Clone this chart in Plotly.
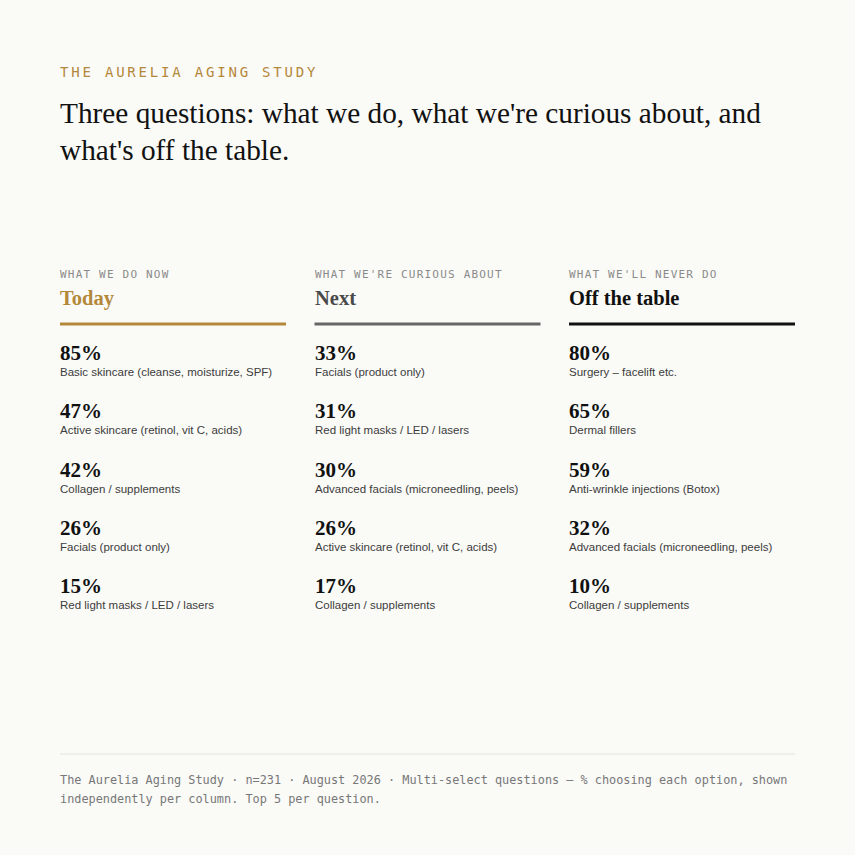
import plotly.graph_objects as go

# --- data -------------------------------------------------------------
kicker = "THE AURELIA AGING STUDY"
title_lines = [
    "Three questions: what we do, what we're curious about, and",
    "what's off the table.",
]
col_kickers = ["WHAT WE DO NOW", "WHAT WE'RE CURIOUS ABOUT", "WHAT WE'LL NEVER DO"]
col_titles = ["Today", "Next", "Off the table"]

today_values = [85, 47, 42, 26, 15]
today_labels = [
    "Basic skincare (cleanse, moisturize, SPF)",
    "Active skincare (retinol, vit C, acids)",
    "Collagen / supplements",
    "Facials (product only)",
    "Red light masks / LED / lasers",
]
next_values = [33, 31, 30, 26, 17]
next_labels = [
    "Facials (product only)",
    "Red light masks / LED / lasers",
    "Advanced facials (microneedling, peels)",
    "Active skincare (retinol, vit C, acids)",
    "Collagen / supplements",
]
never_values = [80, 65, 59, 32, 10]
never_labels = [
    "Surgery \u2013 facelift etc.",
    "Dermal fillers",
    "Anti-wrinkle injections (Botox)",
    "Advanced facials (microneedling, peels)",
    "Collagen / supplements",
]
footer_lines = [
    "The Aurelia Aging Study \u00b7 n=231 \u00b7 August 2026 \u00b7 Multi-select questions \u2014 % choosing each option, shown",
    "independently per column. Top 5 per question.",
]

# --- style ------------------------------------------------------------
BG = "#FAFAF7"
GOLD = "#B4883A"
SERIF = "Liberation Serif, Times New Roman, serif"
SANS = "Liberation Sans, Arial, sans-serif"
MONO = "DejaVu Sans Mono, monospace"
col_colors = [GOLD, "#4A4A4A", "#111111"]
rule_colors = [GOLD, "#666666", "#111111"]
col_x = [60, 314.5, 569]
col_w = 226
row_step = 58.3

fig = go.Figure()
ann = []


def text(x, y, s, size, color, family, bold=False, spacing=None):
    if spacing:
        s = f'<span style="letter-spacing:{spacing}px">{s}</span>'
    if bold:
        s = f"<b>{s}</b>"
    # annotations carry ~2px of padding; pull them back onto the grid
    ann.append(dict(x=x, y=y, xref="x", yref="y", text=s, showarrow=False,
                    xanchor="left", yanchor="middle", align="left", xshift=-2,
                    font=dict(size=size, color=color, family=family)))


text(60, 72, kicker, 14, GOLD, MONO, spacing=2.8)
for i, line in enumerate(title_lines):
    text(60, 113 + i * 37, line, 29.3, "#111111", SERIF)

columns = [(today_values, today_labels), (next_values, next_labels),
           (never_values, never_labels)]
for c, (vals, labels) in enumerate(columns):
    x0 = col_x[c]
    text(x0, 274, col_kickers[c], 11, "#8A8A8A", MONO, spacing=1.2)
    text(x0, 298, col_titles[c], 20.5, col_colors[c], SERIF, bold=True)
    fig.add_trace(go.Scatter(x=[x0, x0 + col_w], y=[324, 324], mode="lines",
                             line=dict(color=rule_colors[c], width=3),
                             hoverinfo="skip", showlegend=False))
    for r, (v, lab) in enumerate(zip(vals, labels)):
        text(x0, 353 + r * row_step, f"{v}%", 21, "#111111", SERIF, bold=True)
        text(x0, 372 + r * row_step, lab, 11.5, "#3C3C3C", SANS)

fig.add_trace(go.Scatter(x=[60, 795], y=[754, 754], mode="lines",
                         line=dict(color="#E2E2DE", width=1),
                         hoverinfo="skip", showlegend=False))
for i, line in enumerate(footer_lines):
    text(60, 780 + i * 18.5, line, 11.85, "#777777", MONO)

fig.update_layout(
    width=855, height=855,
    margin=dict(l=0, r=0, t=0, b=0),
    paper_bgcolor=BG, plot_bgcolor=BG,
    xaxis=dict(range=[0, 855], visible=False, fixedrange=True),
    yaxis=dict(range=[855, 0], visible=False, fixedrange=True),
    annotations=ann,
    showlegend=False,
)
fig.write_html(
    "out.html",
    config={"displayModeBar": False},
    post_script="document.body.style.margin='0';"
                "document.body.style.background='#FAFAF7';",
)
